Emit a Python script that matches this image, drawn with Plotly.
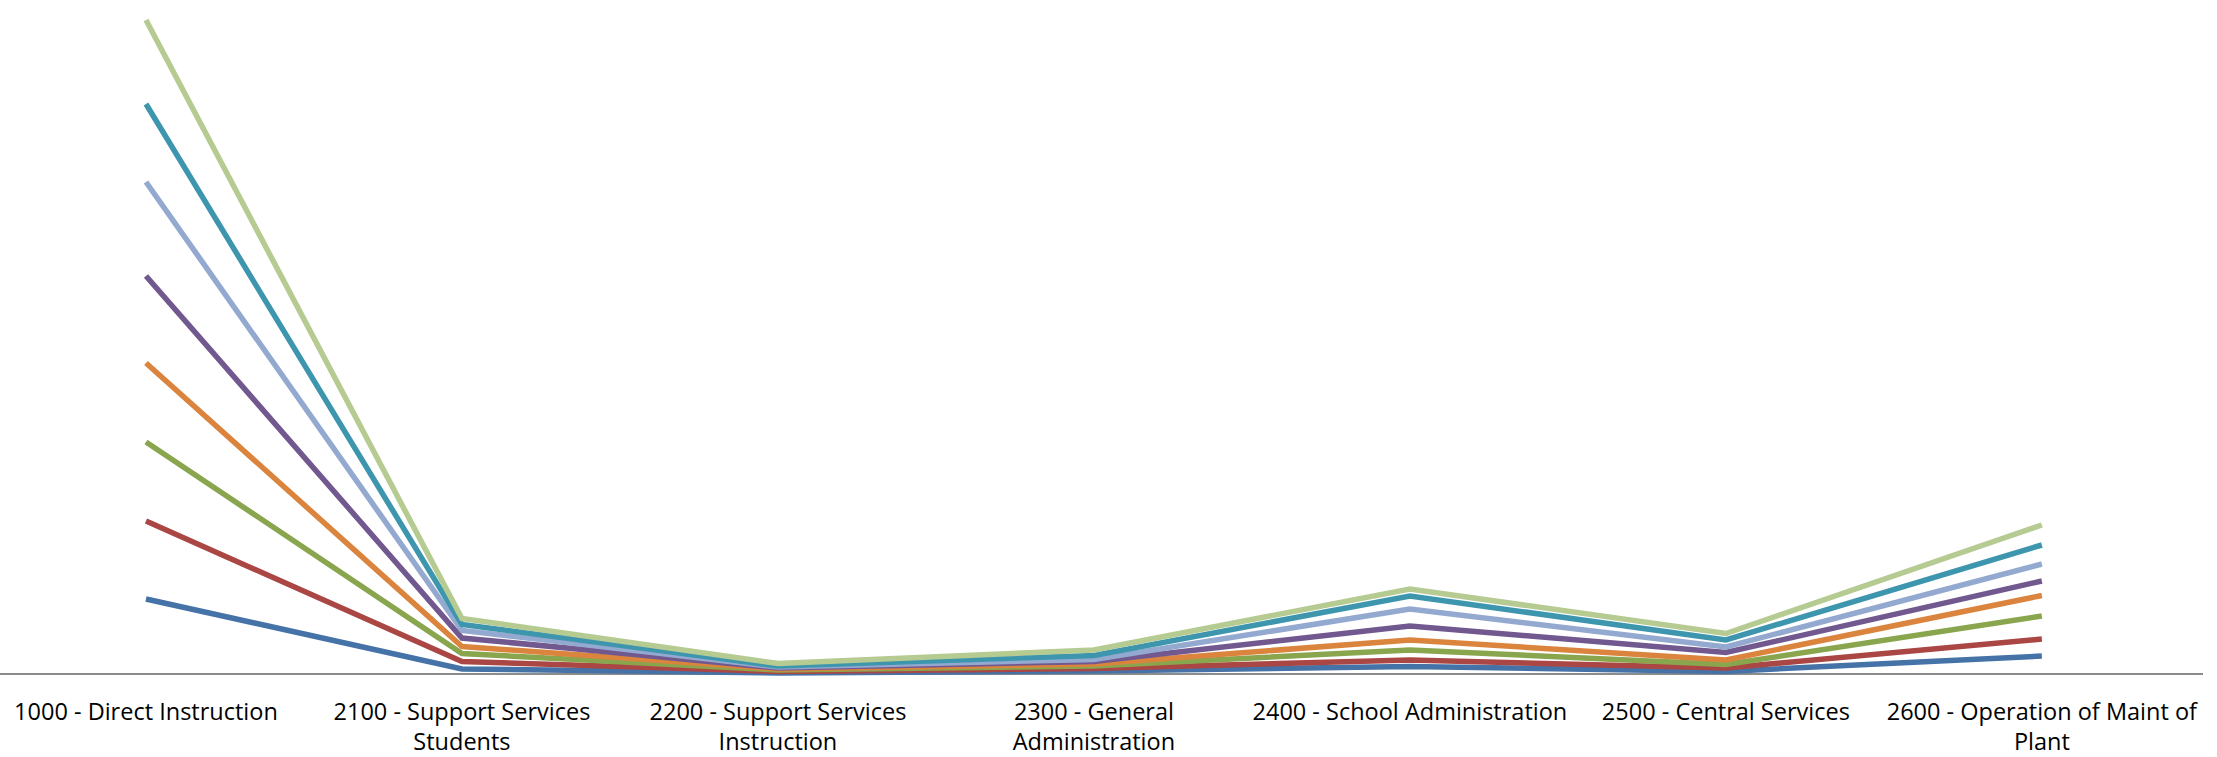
import plotly.graph_objects as go

categories = [
    "1000 - Direct Instruction",
    "2100 - Support Services<br>Students",
    "2200 - Support Services<br>Instruction",
    "2300 - General<br>Administration",
    "2400 - School Administration",
    "2500 - Central Services",
    "2600 - Operation of Maint of<br>Plant",
]

# values (arbitrary units, no value axis shown)
s1 = [75, 5, 1, 3, 7.5, 2.6, 18]
s2 = [153, 12.5, 2.6, 5.5, 14, 6, 35]
s3 = [232, 20.5, 4, 8, 24, 9.5, 58]
s4 = [311, 27.5, 5, 10, 34, 14, 78.5]
s5 = [398, 36, 6, 12.5, 48, 21.5, 93]
s6 = [492, 43.5, 7, 14.5, 65, 27, 110]
s7 = [570, 49.5, 8, 18.5, 78, 34, 129]
s8 = [654, 55.5, 10.5, 24, 85, 40.5, 149]

series = [s1, s2, s3, s4, s5, s6, s7, s8]
colors = ["#4572A7", "#AA4643", "#89A54E", "#DB843D", "#71588F",
          "#93A9CF", "#3D96AE", "#B5CB92"]

fig = go.Figure()
for vals, col in zip(series, colors):
    fig.add_trace(go.Scatter(
        x=list(range(len(categories))), y=vals, mode="lines",
        line=dict(color=col, width=5.5), hoverinfo="skip", showlegend=False,
    ))

fig.update_layout(
    width=2217, height=757,
    margin=dict(l=0, r=14, t=0, b=71),
    paper_bgcolor="white", plot_bgcolor="white",
    font=dict(family="Open Sans", size=23.5, color="#000000"),
    xaxis=dict(
        range=[-0.462, 6.51],
        tickmode="array",
        tickvals=list(range(len(categories))),
        ticktext=categories,
        showgrid=False, zeroline=False, showline=False,
        ticks="", ticklabelstandoff=9,
        fixedrange=True,
    ),
    yaxis=dict(
        range=[-12, 674],
        showgrid=False, showticklabels=False,
        zeroline=True, zerolinecolor="#8C8C8C", zerolinewidth=2,
        showline=False, ticks="", fixedrange=True,
    ),
)

fig.write_html("out.html")
